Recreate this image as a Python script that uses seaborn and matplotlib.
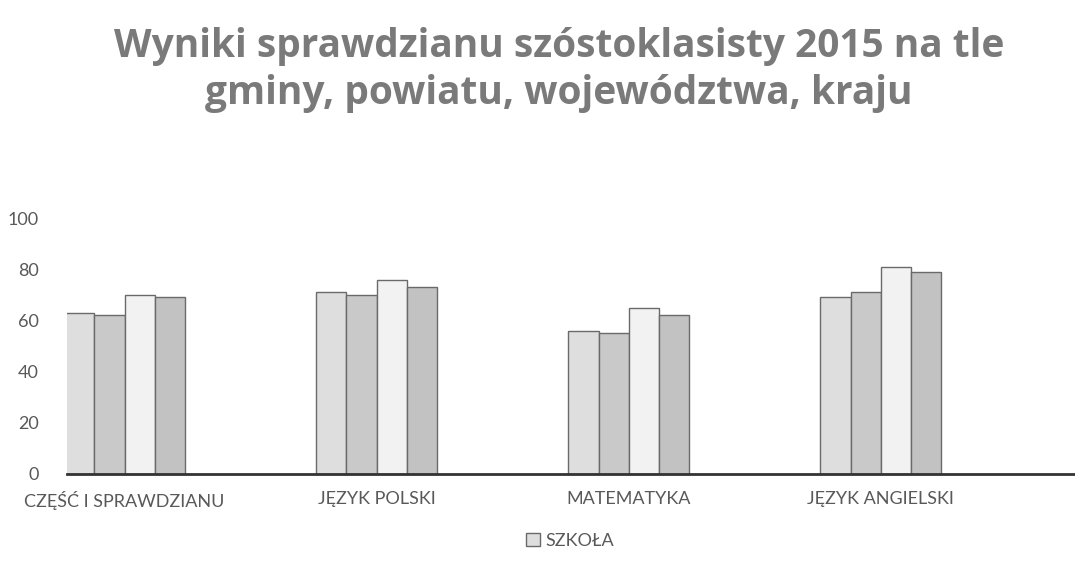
import numpy as np
import pandas as pd
import seaborn as sns
import matplotlib.pyplot as plt

sns.set_theme(style="white")
plt.rcParams["font.family"] = ["Lato", "DejaVu Sans"]

categories = ["CZĘŚĆ I SPRAWDZIANU", "JĘZYK POLSKI", "MATEMATYKA", "JĘZYK ANGIELSKI"]
series = ["SZKOŁA", "GMINA", "POWIAT", "WOJEWÓDZTWO"]
szkola = [63, 71, 56, 69]
gmina = [62, 70, 55, 71]
powiat = [70, 76, 65, 81]
wojewodztwo = [69, 73, 62, 79]

df = pd.DataFrame(
    {
        "kategoria": np.repeat(categories, len(series)),
        "seria": series * len(categories),
        "wynik": np.ravel(np.column_stack([szkola, gmina, powiat, wojewodztwo])),
    }
)

pal = ["#dedede", "#c9c9c9", "#f2f2f2", "#c2c2c2"]

fig = plt.figure(figsize=(10.75, 5.71), dpi=100)
ax = fig.add_axes([0.062, 0.170, 0.938, 0.448])

sns.barplot(
    ax=ax,
    data=df,
    x="kategoria",
    y="wynik",
    hue="seria",
    hue_order=series,
    order=categories,
    palette=pal,
    width=0.48,
    gap=0.0,
    edgecolor="#6a6a6a",
    linewidth=1.0,
    errorbar=None,
)

ax.set_ylim(0, 100)
ax.set_xlim(-0.23, 3.77)
ax.set_yticks([0, 20, 40, 60, 80, 100])
ax.set_xlabel("")
ax.set_ylabel("")
ax.tick_params(axis="both", length=0, labelsize=13, labelcolor="#595959")
ax.tick_params(axis="x", pad=12)
ax.tick_params(axis="y", pad=20)
for s in ["top", "right", "left"]:
    ax.spines[s].set_visible(False)
ax.spines["bottom"].set_color("#333333")
ax.spines["bottom"].set_linewidth(2)

handles, labels = ax.get_legend_handles_labels()
ax.legend_.remove()
fig.legend(
    handles[:1],
    labels[:1],
    loc="center",
    bbox_to_anchor=(0.53, 0.053),
    frameon=False,
    fontsize=13,
    handlelength=0.8,
    handleheight=0.8,
    handletextpad=0.3,
    labelcolor="#595959",
)

fig.text(
    0.52,
    0.877,
    "Wyniki sprawdzianu szóstoklasisty 2015 na tle\ngminy, powiatu, województwa, kraju",
    ha="center",
    va="center",
    fontsize=28,
    fontweight="bold",
    color="#7a7a7a",
    linespacing=1.25,
    family=["Open Sans", "DejaVu Sans"],
)

fig.savefig("out.png", dpi=100)
